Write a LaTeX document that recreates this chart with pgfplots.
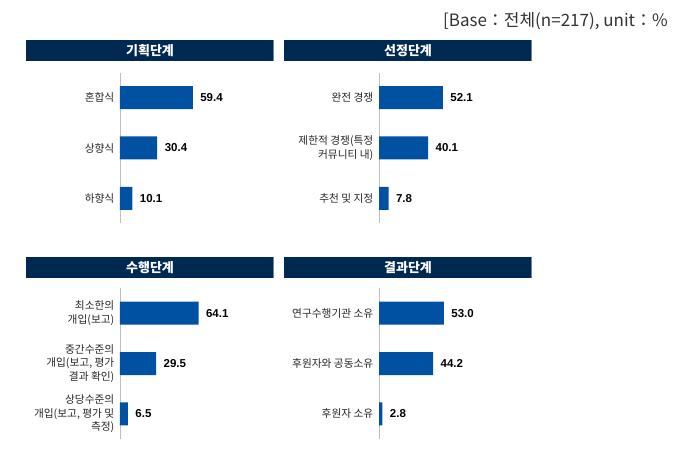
\documentclass[border=0pt]{standalone}
\usepackage{pgfplots}
\pgfplotsset{compat=1.18}
\usepackage{fontspec}
\setmainfont{Liberation Sans}
\newfontfamily\kr{Noto Sans CJK KR}
\definecolor{barblue}{HTML}{0051A1}
\definecolor{navy}{HTML}{002952}
\definecolor{navyedge}{HTML}{6F86A0}
\definecolor{axgray}{HTML}{BFBFBF}
\pgfplotsset{
  panel/.style={
    scale only axis, width=122.5pt, height=151pt,
    xmin=0, xmax=100, ymin=-0.5, ymax=2.5, y dir=reverse,
    hide x axis, axis y line=left,
    axis line style={-, draw=axgray, line width=0.8pt},
    ytick={0,1,2}, ytick style={draw=none},
    yticklabel style={align=right, font=\kr\fontsize{10.7}{13.3}\selectfont, text=black!85},
    anchor=south west, clip=false},
  bars/.style={xbar, bar width=23pt, fill=barblue, draw=none,
    point meta=explicit symbolic, nodes near coords,
    nodes near coords style={font=\bfseries\fontsize{11.5}{12}\selectfont, anchor=west, xshift=4pt, text=black}}
}
\begin{document}
\begin{tikzpicture}[x=1pt,y=1pt]
\path[use as bounding box] (0,0) rectangle (681,453);
\node[anchor=east, font=\kr\fontsize{17}{19}\selectfont, text=black!80, inner sep=0pt] at (668,432) {[Base：전체(n=217), unit：\%};
% title bars
\foreach \x/\y/\t in {26/392/기획단계, 284/392/선정단계, 26/175/수행단계, 284/175/결과단계}{
  \fill[navy] (\x,\y) rectangle ++(248,21);
  \draw[navyedge, line width=0.8pt] (\x+247.6,\y) -- ++(0,21);
  \node[text=white, font=\kr\bfseries\fontsize{13}{15}\selectfont] at (\x+124,\y+10.5) {\t};
}
\begin{axis}[panel, at={(120pt,229.5pt)}, yticklabels={혼합식, 상향식, 하향식}]
\addplot[bars] coordinates {(59.4,0) [59.4] (30.4,1) [30.4] (10.1,2) [10.1]};
\end{axis}
\begin{axis}[panel, at={(379pt,229.5pt)}, yticklabels={완전 경쟁, {제한적 경쟁(특정\\커뮤니티 내)}, 추천 및 지정}]
\addplot[bars] coordinates {(52.1,0) [52.1] (40.1,1) [40.1] (7.8,2) [7.8]};
\end{axis}
\begin{axis}[panel, at={(120pt,14pt)}, yticklabels={{최소한의\\개입(보고)}, {중간수준의\\개입(보고, 평가\\결과 확인)}, {상당수준의\\개입(보고, 평가 및\\측정)}}]
\addplot[bars] coordinates {(64.1,0) [64.1] (29.5,1) [29.5] (6.5,2) [6.5]};
\end{axis}
\begin{axis}[panel, at={(379pt,14pt)}, yticklabels={연구수행기관 소유, 후원자와 공동소유, 후원자 소유}]
\addplot[bars] coordinates {(53.0,0) [53.0] (44.2,1) [44.2] (2.8,2) [2.8]};
\end{axis}
\end{tikzpicture}
\end{document}
